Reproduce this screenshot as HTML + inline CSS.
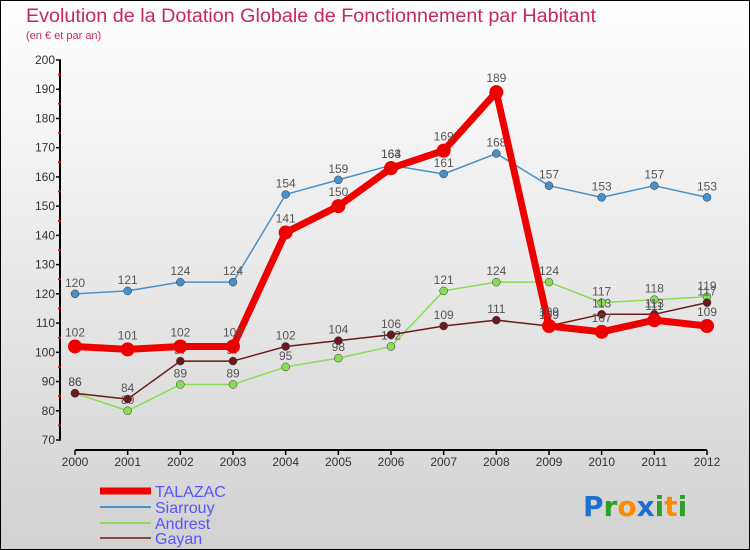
<!DOCTYPE html>
<html><head><meta charset="utf-8"><style>
html,body{margin:0;padding:0}
body{width:750px;height:550px;overflow:hidden;font-family:"Liberation Sans",sans-serif}
</style></head><body>
<svg id="chart" width="750" height="550" xmlns="http://www.w3.org/2000/svg" style="display:block">
<defs><linearGradient id="bg" x1="0" y1="0" x2="0" y2="1"><stop offset="0" stop-color="#ffffff"/><stop offset="1" stop-color="#d2d2d2"/></linearGradient></defs>
<rect x="0.5" y="0.5" width="749" height="549" fill="url(#bg)" stroke="#000" stroke-width="1"/>
<text x="26" y="22" font-size="19" fill="#c8285a" textLength="570" lengthAdjust="spacingAndGlyphs">Evolution de la Dotation Globale de Fonctionnement par Habitant</text>
<text x="26" y="39" font-size="11" fill="#c8285a">(en € et par an)</text>
<g id="axes"></g>
<g id="series"></g>
<g id="legend"></g>
<text x="583" y="516" font-size="28" font-weight="bold" font-family="'DejaVu Sans',sans-serif"><tspan fill="#1f6fd0">P</tspan><tspan fill="#2aa02a">r</tspan><tspan fill="#ff8a00">o</tspan><tspan fill="#1f6fd0">x</tspan><tspan fill="#2aa02a">i</tspan><tspan fill="#ff8a00">t</tspan><tspan fill="#2aa02a">i</tspan></text>
</svg>
<script>
const years=[2000,2001,2002,2003,2004,2005,2006,2007,2008,2009,2010,2011,2012];
const talazac=[102,101,102,102,141,150,163,169,189,109,107,111,109];
const siarrouy=[120,121,124,124,154,159,164,161,168,157,153,157,153];
const andrest=[86,80,89,89,95,98,102,121,124,124,117,118,119];
const gayan=[86,84,97,97,102,104,106,109,111,109,113,113,117];
const yTicks=[70,80,90,100,110,120,130,140,150,160,170,180,190,200];
const NS="http://www.w3.org/2000/svg";
const xS=i=>75+i*(707-75)/(years.length-1);
const yS=v=>440-(v-70)*(380/130);
function mk(tag,attrs,parent){const e=document.createElementNS(NS,tag);for(const k in attrs)e.setAttribute(k,attrs[k]);parent.appendChild(e);return e;}
const axes=document.getElementById('axes');
let ya=mk('line',{x1:60,y1:yS(200),x2:60,y2:yS(70),stroke:'#000','stroke-width':2},axes);


let xa=mk('line',{x1:75,y1:450,x2:707,y2:450,stroke:'#000','stroke-width':2},axes);


yTicks.forEach((t,i)=>{
 mk('line',{x1:56,y1:yS(t),x2:61,y2:yS(t),stroke:'#000','stroke-width':1.5},axes);
 if(i<yTicks.length-1)mk('line',{x1:58,y1:yS(t+5),x2:61,y2:yS(t+5),stroke:'#e00','stroke-width':1.5},axes);
 const tx=mk('text',{x:55,y:yS(t)+4,'font-size':12,'text-anchor':'end',fill:'#333'},axes);
 tx.textContent=t;
 
 
});
years.forEach((yr,i)=>{
 mk('line',{x1:xS(i),y1:450,x2:xS(i),y2:455,stroke:'#000','stroke-width':1.5},axes);
 const tx=mk('text',{x:xS(i),y:466,'font-size':12,'text-anchor':'middle',fill:'#333'},axes);
 tx.textContent=yr;
 
 
});
const series=[
 {name:'Siarrouy',data:siarrouy,color:'#4a90c8',w:1.5,r:4,lab:-7},
 {name:'Andrest',data:andrest,color:'#88dd55',w:1.5,r:4,lab:-7},
 {name:'Gayan',data:gayan,color:'#6b1a1a',w:1.5,r:4,lab:-7},
 {name:'TALAZAC',data:talazac,color:'#ee0000',w:7,r:7,lab:-10}
];
const sg=document.getElementById('series');
series.forEach(s=>{
 const g=mk('g',{},sg);
 
 
 const pts=s.data.map((v,i)=>xS(i)+','+yS(v)).join(' ');
 mk('polyline',{points:pts,fill:'none',stroke:s.color,'stroke-width':s.w,'stroke-linejoin':'round'},g);
 s.data.forEach((v,i)=>{
  const c=mk('circle',{cx:xS(i),cy:yS(v),r:s.r,fill:s.color,stroke:s.w>2?'none':'#333','stroke-width':0.5},g);
  
  
  const t=mk('text',{x:xS(i),y:yS(v)+s.lab,'font-size':12,'text-anchor':'middle',fill:'#555'},g);
  t.textContent=v;
  
  
 });
});
const lg=document.getElementById('legend');
const leg=[['TALAZAC','#ee0000',7,491],['Siarrouy','#4a90c8',2,507],['Andrest','#88dd55',2,523],['Gayan','#8b4a4a',2,538]];
leg.forEach(l=>{
 const g=mk('g',{},lg);
 
 
 mk('line',{x1:100,y1:l[3],x2:151,y2:l[3],stroke:l[1],'stroke-width':l[2]},g);
 const t=mk('text',{x:155,y:l[3]+6,'font-size':16,fill:'#5555ff'},g);
 t.textContent=l[0];
});
</script>
</body></html>
